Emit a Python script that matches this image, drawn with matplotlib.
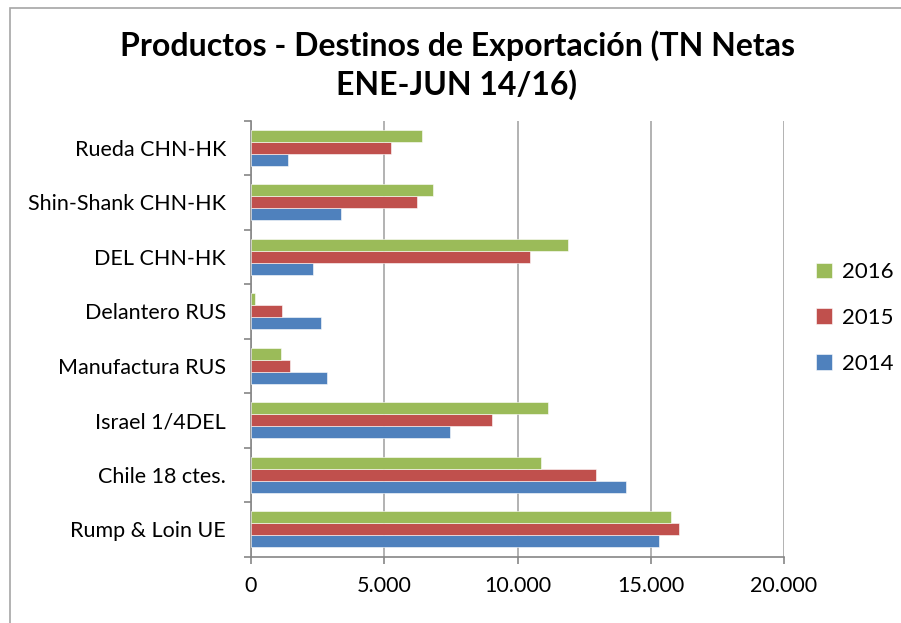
import numpy as np
import matplotlib
matplotlib.use("Agg")
import matplotlib.pyplot as plt
from matplotlib.ticker import FuncFormatter
from matplotlib.patches import Rectangle

# Datos (TN netas, ENE-JUN) - de abajo hacia arriba
categorias = ['Rump & Loin UE', 'Chile 18 ctes.', 'Israel 1/4DEL', 'Manufactura RUS',
              'Delantero RUS', 'DEL CHN-HK', 'Shin-Shank CHN-HK', 'Rueda CHN-HK']
valores_2014 = [15300, 14060, 7470, 2840, 2620, 2340, 3360, 1370]
valores_2015 = [16070, 12940, 9060, 1470, 1160, 10480, 6220, 5270]
valores_2016 = [15760, 10890, 11150, 1120, 150, 11910, 6820, 6400]
anios = ['2014', '2015', '2016']
colores = ['#4F81BD', '#C0504D', '#9BBB59']

plt.rcParams['font.family'] = ['Lato', 'DejaVu Sans']

fig = plt.figure(figsize=(9.01, 6.23), dpi=100)
# borde del grafico (solo se ven el lado izquierdo y el superior)
fig.patches.append(Rectangle((10 / 901, -1), 2, 1 + (623 - 8) / 623, transform=fig.transFigure,
                             fill=False, edgecolor='#a6a6a6', linewidth=1.2))

ax = fig.add_axes([251 / 901, 1 - 556.7 / 623, (784 - 251) / 901, (556.7 - 120.7) / 623])

y = np.arange(len(categorias))
alto = 0.22
series = [valores_2014, valores_2015, valores_2016]
for i, (vals, anio, col) in enumerate(zip(series, anios, colores)):
    ax.barh(y + (i - 1) * alto, vals, height=alto, color=col, label=anio,
            edgecolor='white', linewidth=0.4, zorder=3)

ax.set_xlim(0, 20000)
ax.set_ylim(-0.5, len(categorias) - 0.5)
ax.set_xticks([0, 5000, 10000, 15000, 20000])
ax.xaxis.set_major_formatter(FuncFormatter(lambda v, p: f'{int(v):,}'.replace(',', '.')))
ax.set_yticks(y)
ax.set_yticklabels(categorias)
ax.set_yticks(np.arange(-0.5, len(categorias), 1), minor=True)
ax.tick_params(axis='y', which='major', length=0, pad=18, labelsize=15.5)
ax.tick_params(axis='y', which='minor', length=5, color='#868686', width=1.2)
ax.tick_params(axis='x', length=5, color='#868686', width=1.2, labelsize=15.5, pad=9)

ax.grid(axis='x', color='#a6a6a6', linewidth=1.2, zorder=0)
for s in ['top', 'right']:
    ax.spines[s].set_visible(False)
for s in ['left', 'bottom']:
    ax.spines[s].set_color('#868686')
    ax.spines[s].set_linewidth(1.2)

handles, labels = ax.get_legend_handles_labels()
fig.legend(handles[::-1], labels[::-1], loc='center left',
           bbox_to_anchor=(796 / 901, 1 - 318 / 623), frameon=False,
           fontsize=16, handlelength=0.7, handleheight=0.7, labelspacing=1.15,
           handletextpad=0.45)

fig.text(457 / 901, 1 - 65 / 623,
         'Productos - Destinos de Exportación (TN Netas\nENE-JUN 14/16)',
         ha='center', va='center', fontsize=23, fontweight='bold', linespacing=1.3)

fig.savefig('out.png', dpi=100)
